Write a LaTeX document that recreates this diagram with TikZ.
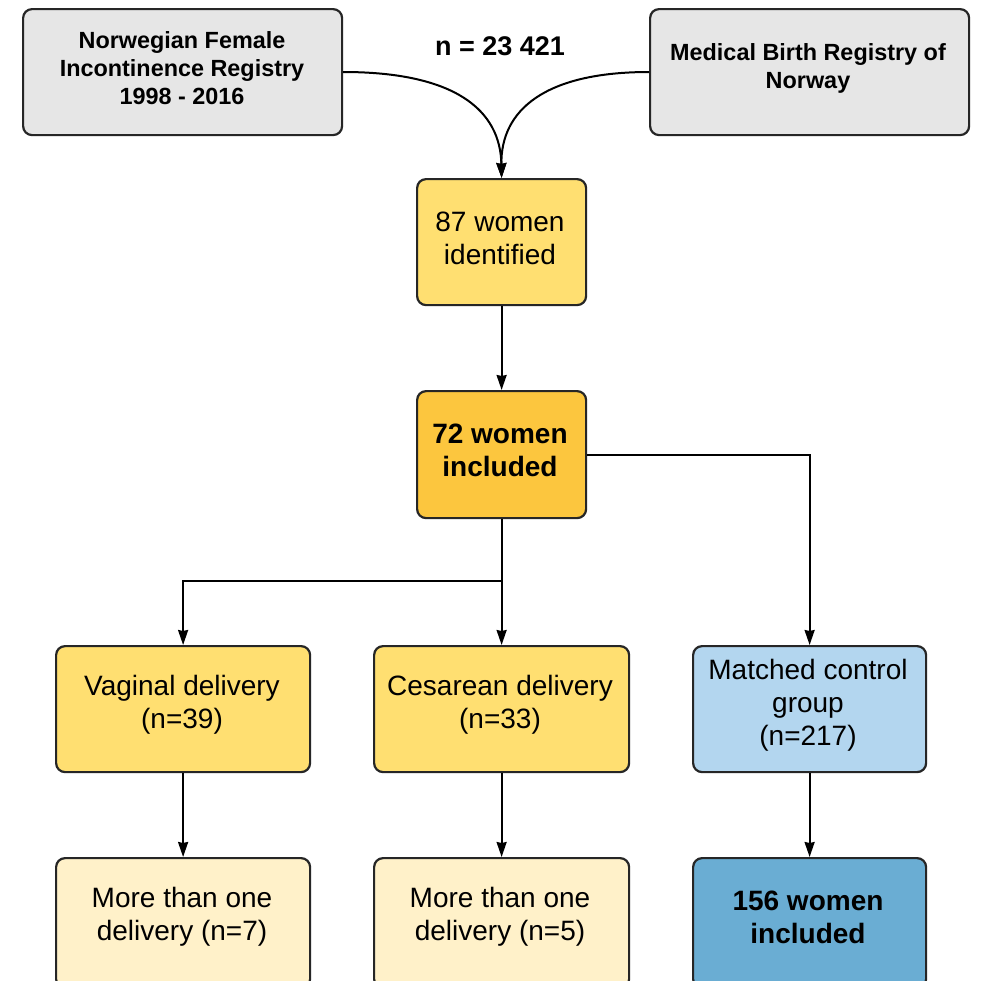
\documentclass[tikz,border=0pt]{standalone}
\usepackage{fontspec}
\setmainfont{Liberation Sans}
\usetikzlibrary{arrows.meta}
\definecolor{cgray}{HTML}{E6E6E6}
\definecolor{cyellow}{HTML}{FFDF71}
\definecolor{corange}{HTML}{FCC63E}
\definecolor{clight}{HTML}{FFF1C9}
\definecolor{clblue}{HTML}{B3D6EF}
\definecolor{cblue}{HTML}{6AADD3}
\begin{document}
\begin{tikzpicture}[x=1pt,y=-1pt,
  box/.style={draw=black!85,line width=2.2pt,rounded corners=9pt,inner sep=0pt,anchor=north west},
  btxt/.style={font=\fontsize{28}{33}\selectfont,align=center},
  boldtxt/.style={font=\bfseries\fontsize{28}{33}\selectfont,align=center},
  toptxt/.style={font=\bfseries\fontsize{23.4}{28}\selectfont,align=center},
  conn/.style={draw=black,line width=2pt,-{Stealth[length=15pt,width=10pt,inset=1pt]}},
  line/.style={draw=black,line width=2pt}]
\useasboundingbox (0,0) rectangle (981,980);
\fill[white] (0,0) rectangle (981,980);
% top boxes
\node[box,fill=cgray,minimum width=319pt,minimum height=126pt] (nfir) at (22,8) {};
\node[toptxt] at (182,68) {Norwegian Female\\Incontinence Registry\\1998 - 2016};
\node[box,fill=cgray,minimum width=319pt,minimum height=126pt] (mbrn) at (649,8) {};
\node[toptxt] at (808,68) {Medical Birth Registry of\\Norway};
\node[font=\bfseries\fontsize{27}{30}\selectfont] (n) at (500,46) {n = 23 421};
% middle
\node[box,fill=cyellow,minimum width=169pt,minimum height=126pt] (ident) at (416,178) {};
\node[btxt] at (500,238) {87 women\\identified};
\node[box,fill=corange,minimum width=169pt,minimum height=127pt] (incl) at (416,390) {};
\node[boldtxt] at (500,450) {72 women\\included};
% third row
\node[box,fill=cyellow,minimum width=254pt,minimum height=126pt] (vag) at (55,645) {};
\node[btxt] at (182,705) {Vaginal delivery\\(n=39)};
\node[box,fill=cyellow,minimum width=255pt,minimum height=126pt] (ces) at (373,645) {};
\node[btxt] at (500,705) {Cesarean delivery\\(n=33)};
\node[box,fill=clblue,minimum width=233pt,minimum height=126pt] (ctrl) at (692,645) {};
\node[btxt] at (808,705) {Matched control\\group\\(n=217)};
% bottom row
\node[box,fill=clight,minimum width=254pt,minimum height=130pt] (vagm) at (55,857) {};
\node[btxt] at (182,917) {More than one\\delivery (n=7)};
\node[box,fill=clight,minimum width=255pt,minimum height=130pt] (cesm) at (373,857) {};
\node[btxt] at (500,917) {More than one\\delivery (n=5)};
\node[box,fill=cblue,minimum width=233pt,minimum height=130pt] (ctrlm) at (692,857) {};
\node[boldtxt] at (808,917) {156 women\\included};
% connectors
\draw[conn] (nfir.east |- 0,72) .. controls (455,72) and (500.5,110) .. (ident.north);
\draw[conn] (mbrn.west |- 0,72) .. controls (545,72) and (500.5,110) .. (ident.north);
\draw[conn] (ident.south) -- (incl.north);
\coordinate (split) at (incl.south |- 0,581);
\draw[line] (incl.south) -- (split);
\draw[conn] (split) -- (ces.north);
\draw[conn] (split) -| (vag.north);
\draw[conn] (incl.east) -| (ctrl.north);
\draw[conn] (vag.south) -- (vagm.north);
\draw[conn] (ces.south) -- (cesm.north);
\draw[conn] (ctrl.south) -- (ctrlm.north);
\end{tikzpicture}
\end{document}
